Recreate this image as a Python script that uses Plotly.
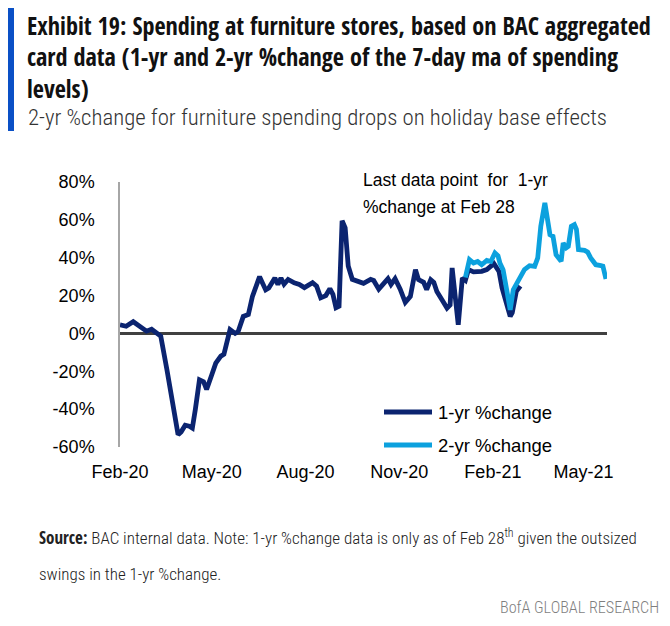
import plotly.graph_objects as go

# ---- data ----
yr1_dates = [
    "2020-02-01", "2020-02-07", "2020-02-14", "2020-02-20", "2020-02-27", "2020-03-03", "2020-03-09",
    "2020-03-12", "2020-03-18", "2020-03-22", "2020-03-27", "2020-03-29", "2020-04-01", "2020-04-05",
    "2020-04-09", "2020-04-12", "2020-04-15", "2020-04-19", "2020-04-23", "2020-04-26", "2020-05-01",
    "2020-05-05", "2020-05-10", "2020-05-13", "2020-05-19", "2020-05-24", "2020-05-27", "2020-06-01",
    "2020-06-06", "2020-06-10", "2020-06-17", "2020-06-20", "2020-06-23", "2020-06-26", "2020-07-02",
    "2020-07-05", "2020-07-08", "2020-07-11", "2020-07-15", "2020-07-21", "2020-07-26", "2020-07-31",
    "2020-08-08", "2020-08-12", "2020-08-16", "2020-08-21", "2020-08-25", "2020-08-28", "2020-08-31",
    "2020-09-03", "2020-09-06", "2020-09-09", "2020-09-12", "2020-09-16", "2020-09-22", "2020-09-27",
    "2020-10-04", "2020-10-07", "2020-10-12", "2020-10-17", "2020-10-21", "2020-10-24", "2020-10-28",
    "2020-11-02", "2020-11-07", "2020-11-12", "2020-11-17", "2020-11-20", "2020-11-25", "2020-11-28",
    "2020-12-02", "2020-12-05", "2020-12-08", "2020-12-13", "2020-12-18", "2020-12-21", "2020-12-23",
    "2020-12-26", "2020-12-29", "2021-01-02", "2021-01-05", "2021-01-08", "2021-01-13", "2021-01-21",
    "2021-01-26", "2021-02-02", "2021-02-07", "2021-02-10", "2021-02-15", "2021-02-18", "2021-02-20",
    "2021-02-24", "2021-02-28",
]
yr1_values = [
    4.5, 3.8, 6.2, 4.0, 1.2, 2.2, 0.0,
    -1.4, -19, -33, -50, -53.5, -52, -48.5,
    -49, -50, -40, -24.5, -25.5, -29.6, -22,
    -15.7, -12, -11, 2, 0, 1, 9,
    10, 19.6, 30, 26.7, 23, 24, 29.3,
    25.8, 29.3, 26, 28.5, 26.7, 25.9, 24.2,
    26.8, 25, 18.8, 20, 23.6, 20.6, 13.6,
    14.4, 59.5, 55.8, 35.6, 28.6, 27.7, 26.5,
    28.6, 28, 23.4, 26.8, 28.9, 25.9, 28.9,
    23.4, 16.4, 19.6, 33.7, 28.4, 27, 23.1,
    28.4, 27, 22.2, 17.8, 13.4, 15, 34.6,
    19.6, 4.6, 29.3, 28, 33.7, 32.5, 32.8,
    33.7, 36.9, 32.8, 24, 14.4, 9, 11,
    22.2, 25,
]

yr2_dates = [
    "2021-01-05", "2021-01-09", "2021-01-13", "2021-01-17", "2021-01-21", "2021-01-26", "2021-01-30",
    "2021-02-03", "2021-02-06", "2021-02-08", "2021-02-11", "2021-02-15", "2021-02-18", "2021-02-21",
    "2021-02-26", "2021-03-04", "2021-03-09", "2021-03-14", "2021-03-17", "2021-03-20", "2021-03-24",
    "2021-03-27", "2021-03-29", "2021-04-01", "2021-04-04", "2021-04-09", "2021-04-11", "2021-04-14",
    "2021-04-16", "2021-04-19", "2021-04-22", "2021-04-24", "2021-04-26", "2021-05-02", "2021-05-05",
    "2021-05-08", "2021-05-13", "2021-05-18", "2021-05-20", "2021-05-23",
]
yr2_values = [
    29.5, 39, 37.2, 38, 36.3, 38.6, 38,
    42.5, 41, 37, 33.7, 23, 12.5, 23.1,
    27.6, 33.7, 35.8, 35.4, 39.9, 56.6, 69,
    59.3, 52.2, 51.3, 41.6, 38.1, 47.8, 45.2,
    46, 56.6, 57.5, 55, 44.3, 43.9, 43,
    39.9, 36.3, 35.8, 35.5, 28.8,
]

series_names = ["1-yr %change", "2-yr %change"]
ytick_vals = [-60, -40, -20, 0, 20, 40, 60, 80]
ytick_labels = ["-60%", "-40%", "-20%", "0%", "20%", "40%", "60%", "80%"]
xtick_vals = ["2020-02-01", "2020-05-01", "2020-08-01", "2020-11-01", "2021-02-01", "2021-05-01"]
xtick_labels = ["Feb-20", "May-20", "Aug-20", "Nov-20", "Feb-21", "May-21"]

NAVY = "#0B2470"
LIGHT = "#0CA1DE"
series_colors = [NAVY, LIGHT]
CHART_FONT = "Liberation Sans, Arial, sans-serif"
TITLE_FONT = "Open Sans Condensed, Roboto Condensed, sans-serif"
LIGHT_FONT = "Roboto Condensed, sans-serif"

fig = go.Figure()
fig.add_trace(go.Scatter(x=yr1_dates, y=yr1_values, mode="lines", name=series_names[0],
                         line=dict(color=series_colors[0], width=4.8)))
fig.add_trace(go.Scatter(x=yr2_dates, y=yr2_values, mode="lines", name=series_names[1],
                         line=dict(color=series_colors[1], width=4.8)))

# page body has an 8px margin, so the figure is 8px smaller than the window
OFF = 8
W, H = 670 - OFF, 626 - OFF
PL, PR, PT, PB = 120, 607, 182, 447          # plot area in window pixels
L, T = PL - OFF, PT - OFF
R, B = W - (PR - OFF), H - (PB - OFF)
pw, ph = PR - PL, PB - PT


def px(xr):
    return (xr - PL) / pw


def py(yr):
    return (PB - yr) / ph


fig.update_layout(
    width=W, height=H,
    margin=dict(l=L, r=R, t=T, b=B, autoexpand=False),
    paper_bgcolor="white", plot_bgcolor="white",
    font=dict(family=CHART_FONT, size=18, color="#000000"),
    showlegend=False,
    xaxis=dict(
        type="date", range=["2020-02-01", "2021-05-24"],
        tickvals=xtick_vals, ticktext=xtick_labels,
        showgrid=False, zeroline=False, showline=False,
        ticks="outside", ticklen=8, tickcolor="rgba(0,0,0,0)",
        tickfont=dict(size=18, family=CHART_FONT, color="#000"),
    ),
    yaxis=dict(
        range=[-60, 80], tickvals=ytick_vals, ticktext=ytick_labels,
        showgrid=False, zeroline=True, zerolinecolor="#404040", zerolinewidth=2.5,
        showline=True, linecolor="#A6A6A6", linewidth=1.5,
        ticks="outside", ticklen=20, tickcolor="rgba(0,0,0,0)",
        tickfont=dict(size=18, family=CHART_FONT, color="#000"),
    ),
)

# legend (drawn to match the reference's long key lines)
for i, (nm, col) in enumerate(zip(series_names, series_colors)):
    yy = py(412 + 33 * i)
    fig.add_shape(type="line", xref="paper", yref="paper", x0=px(384), x1=px(432), y0=yy, y1=yy,
                  line=dict(color=col, width=5))
    fig.add_annotation(xref="paper", yref="paper", x=px(436), y=yy, xanchor="left", yanchor="middle",
                       showarrow=False, text=nm, font=dict(size=18.5, family=CHART_FONT, color="#000"))

# blue bar at left of the title block
fig.add_shape(type="rect", xref="paper", yref="paper",
              x0=px(8), x1=px(14), y0=py(131), y1=py(8),
              fillcolor="#0A50C6", line=dict(width=0), layer="above")

title_lines = [
    "Exhibit 19: Spending at furniture stores, based on BAC aggregated",
    "card data (1-yr and 2-yr %change of the 7-day ma of spending",
    "levels)",
]
fig.add_annotation(xref="paper", yref="paper", x=px(26), y=py(8),
                   xanchor="left", yanchor="top", align="left", showarrow=False, borderpad=0,
                   text="<b>" + "<br>".join(title_lines) + "</b>",
                   font=dict(family=TITLE_FONT, size=24.2, color="#111111"))

fig.add_annotation(xref="paper", yref="paper", x=px(26), y=py(117),
                   xanchor="left", yanchor="middle", showarrow=False,
                   text="2-yr %change for furniture spending drops on holiday base effects",
                   font=dict(family=LIGHT_FONT, size=22.8, color="#333333", weight=300))

# in-chart note
fig.add_annotation(xref="paper", yref="paper", x=px(361), y=py(180),
                   xanchor="left", yanchor="middle", showarrow=False,
                   text="Last data point  for  1-yr",
                   font=dict(family=CHART_FONT, size=17.5, color="#000"))
fig.add_annotation(xref="paper", yref="paper", x=px(361), y=py(207),
                   xanchor="left", yanchor="middle", showarrow=False,
                   text="%change at Feb 28",
                   font=dict(family=CHART_FONT, size=17.5, color="#000"))

# source note
fig.add_annotation(xref="paper", yref="paper", x=px(37), y=py(537),
                   xanchor="left", yanchor="middle", showarrow=False,
                   text="<span style='font-family:Open Sans Condensed;font-weight:bold'>Source:</span>"
                        " BAC internal data. Note: 1-yr %change data is only as of Feb 28<sup>th</sup>"
                        " given the outsized",
                   font=dict(family=LIGHT_FONT, size=17, color="#222222", weight=300))
fig.add_annotation(xref="paper", yref="paper", x=px(37), y=py(574),
                   xanchor="left", yanchor="middle", showarrow=False,
                   text="swings in the 1-yr %change.",
                   font=dict(family=LIGHT_FONT, size=17, color="#222222", weight=300))
fig.add_annotation(xref="paper", yref="paper", x=px(661), y=py(607),
                   xanchor="right", yanchor="middle", showarrow=False,
                   text="BofA GLOBAL RESEARCH",
                   font=dict(family=LIGHT_FONT, size=16.2, color="#7F7F7F", weight=300))

fig.write_html("out.html")
